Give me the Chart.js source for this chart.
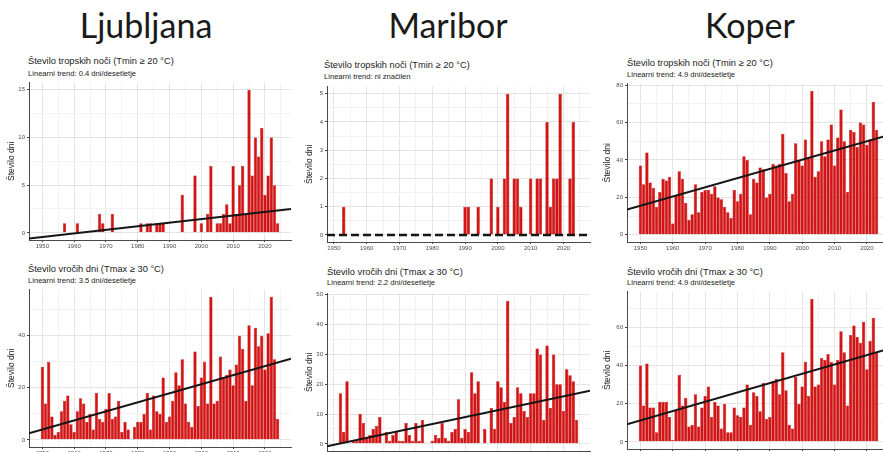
<!DOCTYPE html>
<html>
<head>
<meta charset="utf-8">
<script src="https://cdn.jsdelivr.net/npm/chart.js@4.4.1/dist/chart.umd.min.js"></script>
<style>
  body { margin: 0; width: 883px; height: 452px; overflow: hidden; background: #fff; position: relative; font-family: "Liberation Sans", Arial, sans-serif; }
  .city { position: absolute; top: 5px; font-family: Lato, "Open Sans", sans-serif; font-size: 34px; color: #1a1a1a; transform: translateX(-50%); white-space: nowrap; line-height: 1.2; }
  .t1, .t2 { position: absolute; white-space: nowrap; line-height: 1; color: #222; }
  .t1 { font-size: 9.3px; }
  .t2 { font-size: 7.6px; }
  canvas { position: absolute; }
</style>
</head>
<body>
<div class="city" style="left:146px">Ljubljana</div>
<div class="city" style="left:448px">Maribor</div>
<div class="city" style="left:750px">Koper</div>

<div class="t1" style="left:28px;top:57px">Število tropskih noči (Tmin ≥ 20 °C)</div>
<div class="t2" style="left:28px;top:70px">Linearni trend: 0.4 dni/desetletje</div>
<div class="t1" style="left:324px;top:61px">Število tropskih noči (Tmin ≥ 20 °C)</div>
<div class="t2" style="left:324px;top:73px">Linearni trend: ni značilen</div>
<div class="t1" style="left:627px;top:59px">Število tropskih noči (Tmin ≥ 20 °C)</div>
<div class="t2" style="left:627px;top:71px">Linearni trend: 4.9 dni/desetletje</div>

<div class="t1" style="left:28px;top:265px">Število vročih dni (Tmax ≥ 30 °C)</div>
<div class="t2" style="left:28px;top:277px">Linearni trend: 3.5 dni/desetletje</div>
<div class="t1" style="left:327px;top:268px">Število vročih dni (Tmax ≥ 30 °C)</div>
<div class="t2" style="left:327px;top:279px">Linearni trend: 2.2 dni/desetletje</div>
<div class="t1" style="left:627px;top:268px">Število vročih dni (Tmax ≥ 30 °C)</div>
<div class="t2" style="left:627px;top:279px">Linearni trend: 4.9 dni/desetletje</div>

<script>
// leta
const ljLeta = [1950,1951,1952,1953,1954,1955,1956,1957,1958,1959,1960,1961,1962,1963,1964,1965,1966,1967,1968,1969,
  1970,1971,1972,1973,1974,1975,1976,1977,1978,1979,1980,1981,1982,1983,1984,1985,1986,1987,1988,1989,
  1990,1991,1992,1993,1994,1995,1996,1997,1998,1999,2000,2001,2002,2003,2004,2005,2006,2007,2008,2009,
  2010,2011,2012,2013,2014,2015,2016,2017,2018,2019,2020,2021,2022,2023,2024];
const mbLeta = [1952,1953,1954,1955,1956,1957,1958,1959,1960,1961,1962,1963,1964,1965,1966,1967,1968,1969,
  1970,1971,1972,1973,1974,1975,1976,1977,1978,1979,1980,1981,1982,1983,1984,1985,1986,1987,1988,1989,
  1990,1991,1992,1993,1994,1995,1996,1997,1998,1999,2000,2001,2002,2003,2004,2005,2006,2007,2008,2009,
  2010,2011,2012,2013,2014,2015,2016,2017,2018,2019,2020,2021,2022,2023,2024];
const kpLeta = [1950,1951,1952,1953,1954,1955,1956,1957,1958,1959,1960,1961,1962,1963,1964,1965,1966,1967,1968,1969,
  1970,1971,1972,1973,1974,1975,1976,1977,1978,1979,1980,1981,1982,1983,1984,1985,1986,1987,1988,1989,
  1990,1991,1992,1993,1994,1995,1996,1997,1998,1999,2000,2001,2002,2003,2004,2005,2006,2007,2008,2009,
  2010,2011,2012,2013,2014,2015,2016,2017,2018,2019,2020,2021,2022,2023];

// tropske noci
const ljTropske = [0,0,0,0,0,0,0,1,0,0, 0,1,0,0,0,0,0,0,2,1, 0,0,2,0,0,0,0,0,0,0,
  0,1,0,1,1,0,1,1,1,0, 0,0,0,0,4,0,0,0,6,0, 1,0,2,7,0,1,1,2,3,1,
  7,2,5,7,2,15,6,10,8,11, 4,6,10,5,1];
const mbTropske = [0,1,0,0,0,0,0,0, 0,0,0,0,0,0,0,0,0,0, 0,0,0,0,0,0,0,0,0,0,
  0,0,0,0,0,0,0,0,0,0, 1,1,0,0,1,0,0,0,2,0, 1,0,2,5,0,2,2,1,0,0,
  2,0,2,2,0,4,1,2,2,5, 0,0,2,4,0];
const kpTropske = [37,27,44,28,25,15,23,30,29,31, 6,21,34,30,17,8,11,27,12,23, 24,24,22,26,20,19,15,12,9,24,
  18,22,42,40,11,30,28,36,35,20, 22,38,37,38,54,33,18,22,49,40, 37,51,41,77,31,34,50,42,51,59,
  37,52,67,50,23,56,55,47,60,59, 48,51,71,56];

// vroci dnevi
const ljVroci = [28,14,30,9,2,3,11,15,17,6, 3,11,16,14,7,10,4,18,8,7, 12,18,8,9,15,3,7,4,0,5,
  7,7,10,18,4,17,11,10,24,7, 9,15,26,21,31,14,7,5,34,13, 24,30,14,55,14,15,32,24,25,27,
  21,29,40,35,15,44,21,43,36,40, 27,41,55,31,8];
const mbVroci = [17,4,21,0,1,1,10,7, 2,3,5,6,9,0,4,1,3,4, 1,1,7,3,1,7,1,8,0,0,
  1,3,2,7,2,1,4,5,15,2, 5,4,24,17,21,0,5,0,12,5, 21,19,14,48,7,9,19,17,11,9,
  17,17,32,30,8,33,12,30,20,20, 11,25,23,21,8];
const kpVroci = [40,19,41,18,18,5,21,21,21,13, 1,17,35,19,23,8,9,25,8,18, 24,29,13,21,19,7,20,5,5,18,
  14,13,18,30,9,26,24,16,31,12, 13,32,33,25,47,27,9,7,34,20, 29,42,24,75,29,30,44,43,46,42,
  30,43,58,47,19,56,61,55,52,63, 38,53,65,47];

// linearni trend (vrednost na levem in desnem robu)
const ljTrendTropske = [-0.6, 2.5];
const ljTrendVroci = [2.5, 31.2];
const mbTrendTropske = [0, 0];
const mbTrendVroci = [-0.8, 17.8];
const kpTrendTropske = [13.5, 53.5];
const kpTrendVroci = [9.2, 49.0];

// oznake osi
const xGlavne = [1950,1960,1970,1980,1990,2000,2010,2020];
const xPomozne = [1955,1965,1975,1985,1995,2005,2015,2025];

Chart.defaults.font.family = '"Liberation Sans", Arial, sans-serif';

const PAD_T = 4, PAD_R = 2, X_H = 14;

function narediPanel(p) {
  const cv = document.createElement("canvas");
  const left = Math.round(p.l) - p.yW;
  const top = Math.round(p.t) - PAD_T;
  cv.width = Math.round(p.r - p.l) + p.yW + PAD_R;
  cv.height = Math.round(p.b - p.t) + PAD_T + X_H;
  cv.style.left = left + "px";
  cv.style.top = top + "px";
  document.body.appendChild(cv);

  const vseX = xGlavne.concat(xPomozne).filter(v => v >= p.xMin && v <= p.xMax).sort((a, b) => a - b);
  const vseY = p.yGlavne.concat(p.yPomozne).sort((a, b) => a - b);

  const barve = {
    glavna: "#e4e4e4",
    pomozna: "#f2f2f2",
  };

  new Chart(cv.getContext("2d"), {
    type: "bar",
    data: {
      datasets: [
        {
          type: "line",
          data: [{ x: p.xMin, y: p.trend[0] }, { x: p.xMax, y: p.trend[1] }],
          borderColor: "#151515",
          borderWidth: p.crtkano ? 2.4 : 2,
          borderDash: p.crtkano ? [8, 4] : [],
          pointRadius: 0,
          order: 0,
        },
        {
          data: p.leta.map((l, i) => ({ x: l, y: p.vrednosti[i] === 0 ? null : p.vrednosti[i] })),
          backgroundColor: "#d41414",
          borderColor: "#b50505",
          borderWidth: 0.5,
          borderSkipped: "start",
          barPercentage: 1,
          categoryPercentage: 1.04,
          order: 1,
        },
      ],
    },
    options: {
      responsive: false,
      animation: false,
      layout: { padding: { top: PAD_T, right: PAD_R, left: 0, bottom: 0 } },
      plugins: { legend: { display: false }, tooltip: { enabled: false } },
      scales: {
        x: {
          type: "linear",
          min: p.xMin,
          max: p.xMax,
          offset: false,
          grid: {
            offset: false,
            tickLength: 2,
            color: c => xGlavne.includes(c.tick.value) ? barve.glavna : barve.pomozna,
            tickColor: c => xGlavne.includes(c.tick.value) ? "#444" : "rgba(0,0,0,0)",
          },
          border: { color: "#4a4a4a", width: 1 },
          ticks: {
            autoSkip: false,
            maxRotation: 0,
            padding: 1,
            font: { size: 6 },
            color: "#4d4d4d",
            callback: v => xGlavne.includes(v) ? String(v) : "",
          },
          afterBuildTicks: s => { s.ticks = vseX.map(v => ({ value: v })); },
          afterFit: s => { s.height = X_H; },
        },
        y: {
          min: p.yMin,
          max: p.yMax,
          grid: {
            tickLength: 2,
            color: c => p.yGlavne.includes(c.tick.value) ? barve.glavna : barve.pomozna,
            tickColor: c => p.yGlavne.includes(c.tick.value) ? "#444" : "rgba(0,0,0,0)",
          },
          border: { color: "#4a4a4a", width: 1 },
          ticks: {
            padding: 2,
            font: { size: 6 },
            color: "#4d4d4d",
            callback: v => p.yGlavne.includes(v) ? String(v) : "",
          },
          title: {
            display: true,
            text: "Število dni",
            font: { size: 8.5 },
            color: "#1a1a1a",
            padding: { top: 3, bottom: 2 },
          },
          afterBuildTicks: s => { s.ticks = vseY.map(v => ({ value: v })); },
          afterFit: s => { s.width = p.yW; },
        },
      },
    },
  });
}

// Ljubljana
narediPanel({ l: 29, r: 291, t: 80.5, b: 239, yW: 25, xMin: 1945.8, xMax: 2028.2, yMin: -0.75, yMax: 15.75,
  yGlavne: [0, 5, 10, 15], yPomozne: [2.5, 7.5, 12.5], leta: ljLeta, vrednosti: ljTropske, trend: ljTrendTropske });
narediPanel({ l: 29, r: 291, t: 287.5, b: 446, yW: 25, xMin: 1945.8, xMax: 2028.2, yMin: -2.75, yMax: 57.75,
  yGlavne: [0, 20, 40], yPomozne: [10, 30, 50], leta: ljLeta, vrednosti: ljVroci, trend: ljTrendVroci });

// Maribor
narediPanel({ l: 327, r: 590, t: 85, b: 241.5, yW: 25, xMin: 1947.9, xMax: 2028.1, yMin: -0.25, yMax: 5.25,
  yGlavne: [0, 1, 2, 3, 4, 5], yPomozne: [0.5, 1.5, 2.5, 3.5, 4.5], leta: mbLeta, vrednosti: mbTropske,
  trend: mbTrendTropske, crtkano: true });
narediPanel({ l: 327, r: 590, t: 291.5, b: 450, yW: 25, xMin: 1947.9, xMax: 2028.1, yMin: -2.4, yMax: 50.4,
  yGlavne: [0, 10, 20, 30, 40, 50], yPomozne: [5, 15, 25, 35, 45], leta: mbLeta, vrednosti: mbVroci, trend: mbTrendVroci });

// Koper
narediPanel({ l: 627, r: 890, t: 81.5, b: 241.5, yW: 27, xMin: 1945.85, xMax: 2027.15, yMin: -3.85, yMax: 80.85,
  yGlavne: [0, 20, 40, 60, 80], yPomozne: [10, 30, 50, 70], leta: kpLeta, vrednosti: kpTropske, trend: kpTrendTropske });
narediPanel({ l: 627, r: 890, t: 290, b: 449, yW: 27, xMin: 1945.85, xMax: 2027.15, yMin: -3.75, yMax: 78.75,
  yGlavne: [0, 20, 40, 60], yPomozne: [10, 30, 50, 70], leta: kpLeta, vrednosti: kpVroci, trend: kpTrendVroci });
</script>
</body>
</html>
